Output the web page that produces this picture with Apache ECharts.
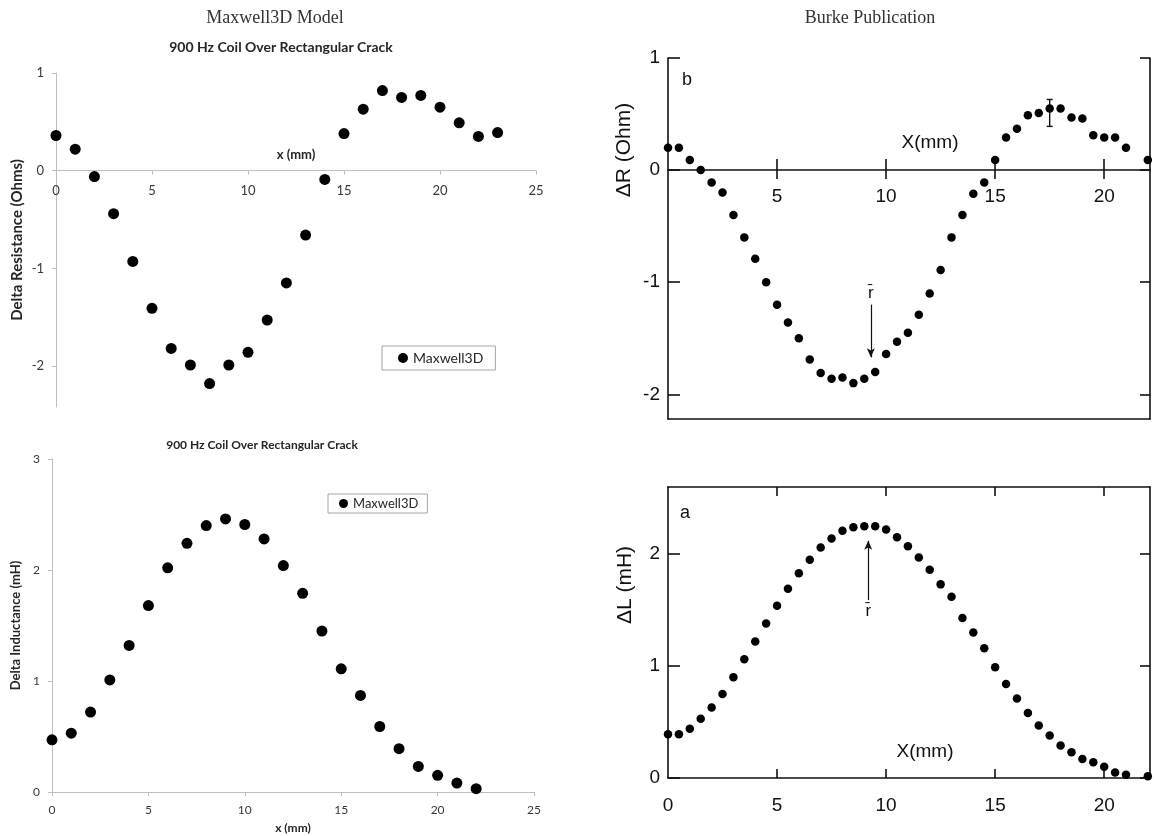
<!DOCTYPE html>
<html>
<head>
<meta charset="utf-8">
<script src="https://cdn.jsdelivr.net/npm/echarts@6/dist/echarts.min.js"></script>
<style>
  html, body { margin: 0; padding: 0; background: #ffffff; }
  #chart { width: 1154px; height: 836px; }
</style>
</head>
<body>
<div id="chart"></div>
<script>
// ---- Maxwell3D model, 1 mm steps ----
const mxResX = [0, 1, 2, 3, 4, 5, 6, 7, 8, 9, 10, 11, 12, 13, 14, 15, 16, 17, 18, 19, 20, 21, 22, 23];
const mxResY = [0.36, 0.22, -0.06, -0.44, -0.93, -1.41, -1.82, -1.99, -2.18, -1.99, -1.86, -1.53,
                -1.15, -0.66, -0.09, 0.38, 0.63, 0.82, 0.75, 0.77, 0.65, 0.49, 0.35, 0.39];
const mxIndX = [0, 1, 2, 3, 4, 5, 6, 7, 8, 9, 10, 11, 12, 13, 14, 15, 16, 17, 18, 19, 20, 21, 22];
const mxIndY = [0.47, 0.53, 0.72, 1.01, 1.32, 1.68, 2.02, 2.24, 2.40, 2.46, 2.41, 2.28,
                2.04, 1.79, 1.45, 1.11, 0.87, 0.59, 0.39, 0.23, 0.15, 0.08, 0.03];

// ---- Burke measurements, 0.5 mm steps ----
const burkeX = [0, 0.5, 1, 1.5, 2, 2.5, 3, 3.5, 4, 4.5, 5, 5.5, 6, 6.5, 7, 7.5, 8, 8.5, 9, 9.5,
                10, 10.5, 11, 11.5, 12, 12.5, 13, 13.5, 14, 14.5, 15, 15.5, 16, 16.5, 17, 17.5,
                18, 18.5, 19, 19.5, 20, 20.5, 21, 22];
const burkeR = [0.20, 0.20, 0.09, 0.00, -0.11, -0.20, -0.40, -0.60, -0.79, -1.00, -1.20, -1.36,
                -1.50, -1.69, -1.81, -1.86, -1.85, -1.90, -1.86, -1.80, -1.64, -1.53, -1.45, -1.29,
                -1.10, -0.89, -0.60, -0.40, -0.21, -0.11, 0.09, 0.29, 0.37, 0.49, 0.51, 0.55,
                0.55, 0.47, 0.46, 0.31, 0.29, 0.29, 0.20, 0.09];
const burkeL = [0.39, 0.39, 0.44, 0.53, 0.63, 0.75, 0.90, 1.06, 1.22, 1.38, 1.54, 1.69,
                1.83, 1.95, 2.06, 2.14, 2.21, 2.24, 2.25, 2.25, 2.22, 2.15, 2.07, 1.97,
                1.86, 1.73, 1.62, 1.43, 1.30, 1.16, 0.99, 0.84, 0.71, 0.58, 0.47, 0.38,
                0.29, 0.23, 0.17, 0.14, 0.10, 0.05, 0.03, 0.015];

// error bar on the resistance peak
const errX = [17.5];
const errLow = [0.39];
const errHigh = [0.63];

// mean-radius arrows: [x, tail y, head y]
const rbarR = [9.3, -1.2, -1.67];
const rbarL = [9.18, 1.59, 2.12];

// tick labels
const mxResTicks = [-2, -1, 0, 1];
const burkeXTicks = [5, 10, 15, 20];
const burkeXTicksBottom = [0, 5, 10, 15, 20];
const burkeRTicks = [-2, -1, 0, 1];
const burkeLTicks = [0, 1, 2];

// axis ranges
const mxResRange = [-2.42, 1];
const burkeXRange = [0, 22.1];
const burkeRRange = [-2.22, 1];
const burkeLRange = [0, 2.6];

const zip = (xs, ys) => xs.map((x, i) => [x, ys[i]]);

// grid boxes (pixels)
const g0 = { left: 56, top: 73, width: 480, height: 334 };
const g1 = { left: 52, top: 459, width: 482, height: 333 };
const g2 = { left: 668, top: 58, width: 482, height: 361 };
const g3 = { left: 668, top: 487, width: 482, height: 291 };

// shift a bottom axis up from the grid floor to the y = 0 line
const zeroOffset = (grid, range) => -grid.height * (0 - range[0]) / (range[1] - range[0]);

const excelFont = 'Lato';
const scanFont = 'Liberation Sans';
const excelGray = '#bfbfbf';
const excelText = '#383838';
const ink = '#111111';

const chart = echarts.init(document.getElementById('chart'), null, { renderer: 'canvas' });

function excelX(gridIndex, extra) {
  return Object.assign({
    type: 'value', gridIndex, min: 0, max: 25, interval: 5, position: 'bottom',
    axisLine: { onZero: false, lineStyle: { color: excelGray, width: 1 } },
    axisTick: { show: true, length: 4, lineStyle: { color: excelGray } },
    axisLabel: { color: excelText, fontFamily: excelFont, fontSize: 13, margin: 12 },
    splitLine: { show: false },
    nameTextStyle: { color: '#262626', fontFamily: excelFont, fontSize: 13, fontWeight: 'bold' }
  }, extra);
}

function excelY(gridIndex, extra) {
  return Object.assign({
    type: 'value', gridIndex,
    axisLine: { show: true, onZero: false, lineStyle: { color: excelGray } },
    axisTick: { show: true, length: 4, lineStyle: { color: excelGray } },
    axisLabel: { color: excelText, fontFamily: excelFont, fontSize: 13, margin: 12 },
    splitLine: { show: false },
    nameLocation: 'middle', nameGap: 30,
    nameTextStyle: { color: '#262626', fontFamily: excelFont, fontSize: 15, fontWeight: 'bold' }
  }, extra);
}

function scanAxis(extra) {
  return Object.assign({
    type: 'value',
    axisLine: { onZero: false, lineStyle: { color: ink, width: 1.6 } },
    axisTick: { show: false },
    axisLabel: { show: false },
    splitLine: { show: false }
  }, extra);
}

const scanTick = (length, values) => ({
  show: true, inside: true, length, customValues: values, lineStyle: { color: ink, width: 1.6 }
});
const scanLabel = (values, margin) => ({
  show: true, customValues: values, margin, color: ink, fontFamily: scanFont, fontSize: 19
});

const textEl = (x, y, text, font, fill, rotation) => ({
  type: 'text', x, y, rotation: rotation || 0,
  style: { text, font, fill, align: 'center', verticalAlign: 'middle', textAlign: 'center', textVerticalAlign: 'middle' }
});

const option = {
  animation: false,
  backgroundColor: '#ffffff',
  grid: [g0, g1, g2, g3],
  xAxis: [
    excelX(0, { offset: zeroOffset(g0, mxResRange), name: 'x (mm)', nameLocation: 'middle', nameGap: -22,
                axisLabel: { color: excelText, fontFamily: excelFont, fontSize: 13, margin: 14 } }),
    excelX(1, { name: 'x (mm)', nameLocation: 'middle', nameGap: 30,
                axisLabel: { color: excelText, fontFamily: excelFont, fontSize: 12, margin: 12 },
                nameTextStyle: { color: '#262626', fontFamily: excelFont, fontSize: 12, fontWeight: 'bold' } }),
    // resistance panel: zero line, ticks hanging below, labels
    scanAxis({ gridIndex: 2, min: burkeXRange[0], max: burkeXRange[1], position: 'bottom',
      offset: zeroOffset(g2, burkeRRange),
      axisTick: { show: true, length: 9, customValues: burkeXTicks, lineStyle: { color: ink, width: 1.6 } },
      axisLabel: scanLabel(burkeXTicks, 17) }),
    // resistance panel: tick halves above the zero line
    scanAxis({ gridIndex: 2, min: burkeXRange[0], max: burkeXRange[1], position: 'bottom',
      offset: zeroOffset(g2, burkeRRange),
      axisLine: { show: false, onZero: false },
      axisTick: scanTick(11, burkeXTicks) }),
    // resistance panel: bottom frame
    scanAxis({ gridIndex: 2, min: burkeXRange[0], max: burkeXRange[1], position: 'bottom' }),
    // inductance panel: bottom axis
    scanAxis({ gridIndex: 3, min: burkeXRange[0], max: burkeXRange[1], position: 'bottom',
      axisTick: scanTick(9, burkeXTicks),
      axisLabel: scanLabel(burkeXTicksBottom, 18) }),
    // inductance panel: top frame
    scanAxis({ gridIndex: 3, min: burkeXRange[0], max: burkeXRange[1], position: 'top',
      axisTick: scanTick(9, burkeXTicks) })
  ],
  yAxis: [
    excelY(0, { min: mxResRange[0], max: mxResRange[1],
      axisTick: { show: true, length: 4, customValues: mxResTicks, lineStyle: { color: excelGray } },
      axisLabel: { customValues: mxResTicks, color: excelText, fontFamily: excelFont, fontSize: 13, margin: 12 },
      name: 'Delta Resistance (Ohms)', nameGap: 31 }),
    excelY(1, { min: 0, max: 3, interval: 1, name: 'Delta Inductance (mH)',
      axisLabel: { color: excelText, fontFamily: excelFont, fontSize: 12, margin: 12 },
      nameTextStyle: { color: '#262626', fontFamily: excelFont, fontSize: 13, fontWeight: 'bold' } }),
    scanAxis({ gridIndex: 2, min: burkeRRange[0], max: burkeRRange[1], position: 'left',
      axisTick: scanTick(12, burkeRTicks), axisLabel: scanLabel(burkeRTicks, 8) }),
    scanAxis({ gridIndex: 2, min: burkeRRange[0], max: burkeRRange[1], position: 'right',
      axisTick: scanTick(10, burkeRTicks) }),
    scanAxis({ gridIndex: 3, min: burkeLRange[0], max: burkeLRange[1], position: 'left',
      axisTick: scanTick(12, burkeLTicks), axisLabel: scanLabel(burkeLTicks, 8) }),
    scanAxis({ gridIndex: 3, min: burkeLRange[0], max: burkeLRange[1], position: 'right',
      axisTick: scanTick(10, burkeLTicks) })
  ],
  legend: [
    {
      data: ['Maxwell3D'], left: 382, top: 346, orient: 'horizontal',
      padding: [5, 12, 5, 16], borderColor: '#a6a6a6', borderWidth: 1, borderRadius: 0,
      icon: 'circle', itemWidth: 10, itemHeight: 10, itemGap: 4,
      textStyle: { color: '#262626', fontFamily: excelFont, fontSize: 14 }
    },
    {
      data: ['Maxwell3D'], left: 328, top: 494, orient: 'horizontal',
      padding: [3, 9, 3, 11], borderColor: '#a6a6a6', borderWidth: 1, borderRadius: 0,
      icon: 'circle', itemWidth: 9, itemHeight: 9, itemGap: 4,
      textStyle: { color: '#262626', fontFamily: excelFont, fontSize: 13 }
    }
  ],
  series: [
    {
      name: 'Maxwell3D', type: 'scatter', xAxisIndex: 0, yAxisIndex: 0,
      data: zip(mxResX, mxResY), symbolSize: 11, itemStyle: { color: '#000000', opacity: 1 }
    },
    {
      name: 'Maxwell3D', type: 'scatter', xAxisIndex: 1, yAxisIndex: 1,
      data: zip(mxIndX, mxIndY), symbolSize: 11, itemStyle: { color: '#000000', opacity: 1 }
    },
    {
      name: 'Burke ΔR', type: 'scatter', xAxisIndex: 2, yAxisIndex: 2,
      data: zip(burkeX, burkeR), symbolSize: 8.5, itemStyle: { color: '#000000', opacity: 1 },
      markLine: {
        silent: true, animation: false, symbol: ['none', 'arrow'], symbolSize: [6, 9],
        lineStyle: { color: ink, width: 1.2, type: 'solid', opacity: 1 },
        label: { show: true, position: 'start', formatter: 'r\u0304', distance: 3,
                 color: ink, fontFamily: scanFont, fontSize: 17 },
        data: [[{ coord: [rbarR[0], rbarR[1]] }, { coord: [rbarR[0], rbarR[2]] }]]
      }
    },
    {
      name: 'Burke error', type: 'custom', xAxisIndex: 2, yAxisIndex: 2,
      encode: { x: 0, y: [1, 2] },
      data: errX.map((x, i) => [x, errLow[i], errHigh[i]]),
      renderItem: function (params, api) {
        const x = api.value(0);
        const lo = api.coord([x, api.value(1)]);
        const hi = api.coord([x, api.value(2)]);
        const cap = 3;
        const style = { stroke: ink, lineWidth: 1.4 };
        return {
          type: 'group',
          children: [
            { type: 'line', shape: { x1: lo[0], y1: lo[1], x2: hi[0], y2: hi[1] }, style },
            { type: 'line', shape: { x1: lo[0] - cap, y1: lo[1], x2: lo[0] + cap, y2: lo[1] }, style },
            { type: 'line', shape: { x1: hi[0] - cap, y1: hi[1], x2: hi[0] + cap, y2: hi[1] }, style }
          ]
        };
      }
    },
    {
      name: 'Burke ΔL', type: 'scatter', xAxisIndex: 5, yAxisIndex: 4,
      data: zip(burkeX, burkeL), symbolSize: 8.5, itemStyle: { color: '#000000', opacity: 1 },
      markLine: {
        silent: true, animation: false, symbol: ['none', 'arrow'], symbolSize: [6, 9],
        lineStyle: { color: ink, width: 1.2, type: 'solid', opacity: 1 },
        label: { show: true, position: 'start', formatter: 'r\u0304', distance: 3,
                 color: ink, fontFamily: scanFont, fontSize: 17 },
        data: [[{ coord: [rbarL[0], rbarL[1]] }, { coord: [rbarL[0], rbarL[2]] }]]
      }
    }
  ],
  graphic: [
    textEl(275, 18, 'Maxwell3D Model', '18px "Liberation Serif"', '#333333'),
    textEl(870, 18, 'Burke Publication', '18px "Liberation Serif"', '#333333'),
    textEl(281, 47, '900 Hz Coil Over Rectangular Crack', 'bold 14px Lato', '#262626'),
    textEl(262, 445, '900 Hz Coil Over Rectangular Crack', 'bold 12px Lato', '#262626'),
    textEl(687, 80, 'b', '18px "Liberation Sans"', ink),
    textEl(685, 513, 'a', '18px "Liberation Sans"', ink),
    textEl(930, 143, 'X(mm)', '19px "Liberation Sans"', ink),
    textEl(925, 752, 'X(mm)', '19px "Liberation Sans"', ink),
    textEl(624, 150, 'ΔR (Ohm)', '21px "Liberation Sans"', ink, Math.PI / 2),
    textEl(625, 585, 'ΔL (mH)', '21px "Liberation Sans"', ink, Math.PI / 2)
  ]
};

chart.setOption(option);
</script>
</body>
</html>
